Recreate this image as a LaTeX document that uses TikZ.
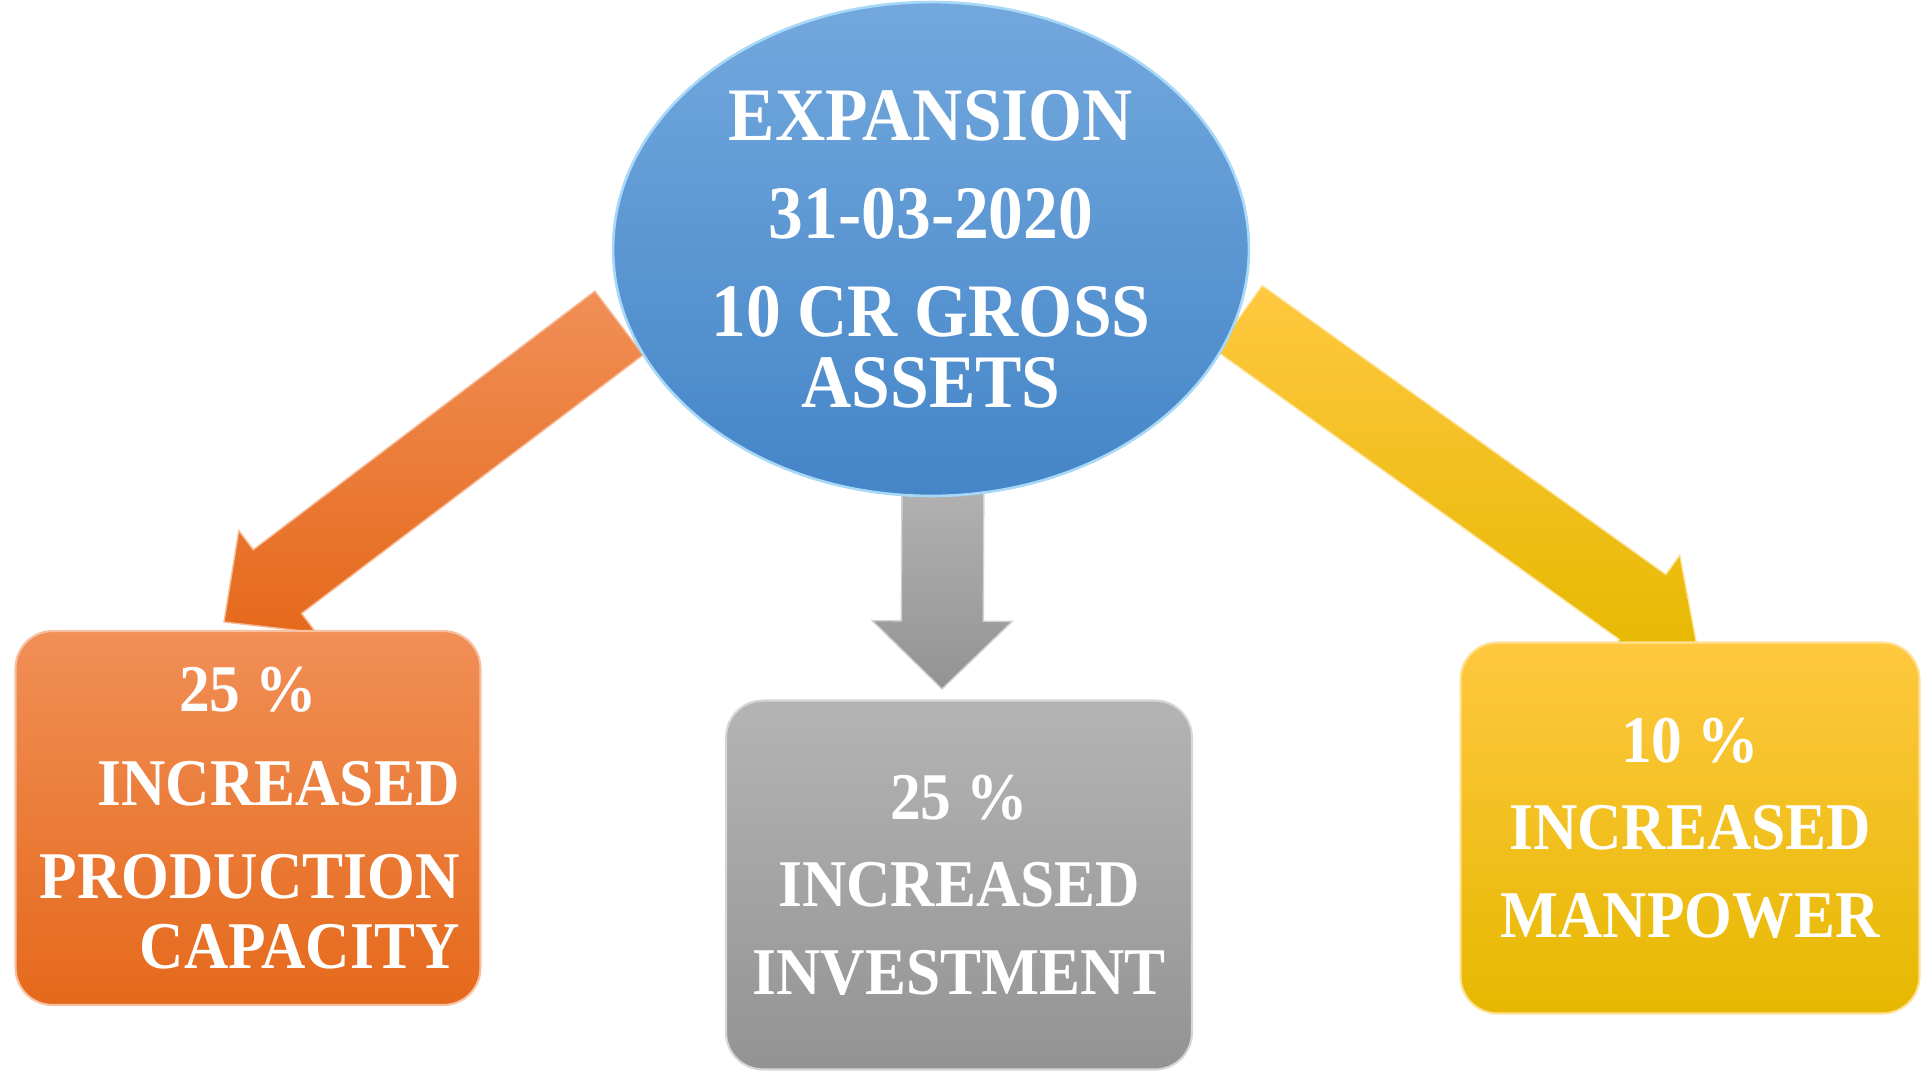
\documentclass[tikz,border=0pt]{standalone}
\usepackage{fontspec}
\setmainfont{Liberation Serif}[FakeStretch=0.92]
\usetikzlibrary{shapes.geometric,calc}

\definecolor{bluetop}{HTML}{73A8DD}
\definecolor{bluebot}{HTML}{4485C8}
\definecolor{bluerim}{HTML}{A8D8F8}
\definecolor{orangetop}{HTML}{F18F57}
\definecolor{orangebot}{HTML}{E5691B}
\definecolor{graytop}{HTML}{B4B4B4}
\definecolor{graybot}{HTML}{939393}
\definecolor{yellowtop}{HTML}{FFC840}
\definecolor{yellowbot}{HTML}{E6B800}

% word gap inside the nodes
\newcommand{\wgap}{\hspace{.22em}}

% fat arrow: tail, tip, shaft half width, head half width, head length, style
\newcommand{\fatarrow}[6]{%
	\coordinate (#1-b) at ($(#2)!#5!(#1)$);
	\path[#6] ($(#1)!#3!90:(#2)$) -- ($(#1-b)!#3!90:(#2)$) -- ($(#1-b)!#4!90:(#2)$)
		-- (#2) -- ($(#1-b)!#4!-90:(#2)$) -- ($(#1-b)!#3!-90:(#2)$) -- ($(#1)!#3!-90:(#2)$) -- cycle;
}

\begin{document}
\begin{tikzpicture}[x=0.02cm, y=-0.02cm,
		box/.style={rectangle, rounded corners=0.74cm, inner sep=0pt, line width=1.2pt,
			text=white, font=\fontsize{38}{39.7}\selectfont\bfseries},
		hub/.style={ellipse, inner sep=0pt, minimum width=12.72cm, minimum height=9.88cm,
			top color=bluetop, bottom color=bluebot, draw=bluerim, line width=1.5pt,
			text=white, text width=8.8cm, align=center,
			font=\fontsize{43}{40.3}\selectfont\bfseries}]
	\useasboundingbox (0,0) rectangle (1921,1072);

	% Arrow ends
	\coordinate (otail) at (619,323);
	\coordinate (otip) at (224,622);
	\coordinate (gtail) at (943,470);
	\coordinate (gtip) at (942,689);
	\coordinate (ytail) at (1239,318);
	\coordinate (ytip) at (1697,646);

	% Draw arrows
	\fatarrow{otail}{otip}{0.8cm}{1.28cm}{1.34cm}{top color=orangetop, bottom color=orangebot, draw=orangetop!60!white, line width=0.8pt}
	\fatarrow{gtail}{gtip}{0.82cm}{1.4cm}{1.36cm}{top color=graytop, bottom color=graybot, draw=graytop!60!white, line width=0.8pt}
	\fatarrow{ytail}{ytip}{0.8cm}{1.28cm}{1.34cm}{top color=yellowtop, bottom color=yellowbot, draw=yellowtop!50!white, line width=0.8pt}

	% Centre ellipse
	\node[hub] (expansion) at (931,249)
		{EXPANSION\\[15.5pt]31-03-2020\\[15.5pt]10\wgap CR\wgap GROSS\\ASSETS};

	% Draw boxes
	\node[box, top color=orangetop, bottom color=orangebot, draw=orangetop!55!white,
		minimum width=9.3cm, minimum height=7.48cm, text width=8.46cm, align=right]
		(capacity) at (248,818)
		{\makebox[\linewidth][c]{25\wgap\%}\\[13.6pt]INCREASED\\[13.6pt]PRODUCTION\\CAPACITY};
	\node[box, top color=graytop, bottom color=graybot, draw=graytop!55!white,
		minimum width=9.32cm, minimum height=7.38cm, text width=8.4cm, align=center]
		(investment) at (959,885)
		{25\wgap\%\\[10.2pt]INCREASED\\[10.2pt]INVESTMENT};
	\node[box, top color=yellowtop, bottom color=yellowbot, draw=yellowtop!55!white,
		minimum width=9.18cm, minimum height=7.42cm, text width=8.4cm, align=center]
		(manpower) at (1690,828)
		{10\wgap\%\\[10.2pt]INCREASED\\[10.2pt]MANPOWER};
\end{tikzpicture}
\end{document}
